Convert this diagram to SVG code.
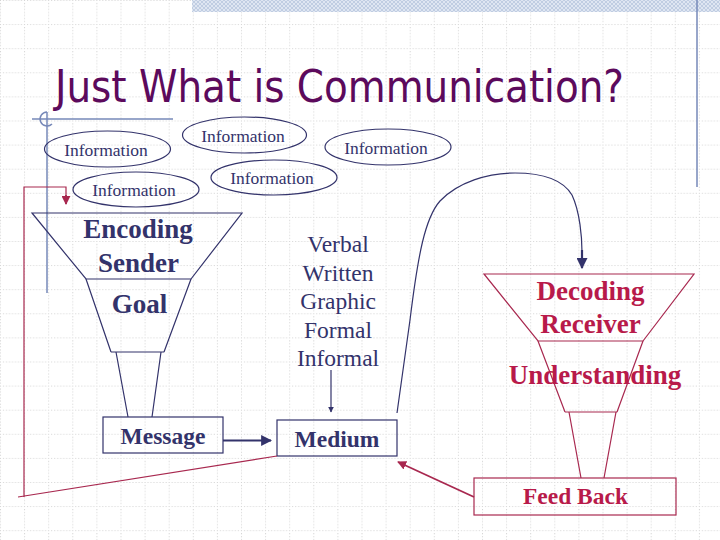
<svg xmlns="http://www.w3.org/2000/svg" width="720" height="540" viewBox="0 0 720 540">
<defs>
<pattern id="grid" width="24.1" height="24.1" patternUnits="userSpaceOnUse">
<path d="M0 0.5 H24.1 M0.5 0 V24.1" fill="none" stroke="#d2d2d2" stroke-width="1" stroke-dasharray="1 2"/>
</pattern>
<pattern id="hatch" width="4" height="4" patternUnits="userSpaceOnUse">
<rect width="4" height="4" fill="#dfe6f2"/>
<path d="M0 0 L4 4 M4 0 L0 4" stroke="#b9c6de" stroke-width="0.8"/>
</pattern>
<marker id="arrN" viewBox="0 0 10 10" refX="9" refY="5" markerWidth="5" markerHeight="5" orient="auto"><path d="M0 0 L10 5 L0 10 Z" fill="#33336b"/></marker>
<marker id="arrR" viewBox="0 0 10 10" refX="9" refY="5" markerWidth="5" markerHeight="5" orient="auto"><path d="M0 0 L10 5 L0 10 Z" fill="#a8284f"/></marker>
<style>
.ell{fill:none;stroke:#33336b;stroke-width:1.2}
.info{font-family:"Liberation Serif","Times New Roman",serif;font-size:17.5px;fill:#33336b;text-anchor:middle}
.navy{fill:none;stroke:#33336b;stroke-width:1.2}
.red{fill:none;stroke:#a8284f;stroke-width:1.2}
.bn{font-family:"Liberation Serif","Times New Roman",serif;font-weight:bold;fill:#33336b;text-anchor:middle}
.br{font-family:"Liberation Serif","Times New Roman",serif;font-weight:bold;fill:#b81a4a;text-anchor:middle}
.list{font-family:"Liberation Serif","Times New Roman",serif;font-size:23.5px;fill:#33336b;text-anchor:middle}
.deco{fill:none;stroke:#7688b8;stroke-width:1.5}
</style>
</defs>
<rect width="720" height="540" fill="#ffffff"/>
<rect width="720" height="540" fill="url(#grid)"/>
<rect x="192" y="0" width="528" height="12" fill="url(#hatch)"/>
<g id="decor">
<line class="deco" x1="697" y1="0" x2="697" y2="187"/>
<line class="deco" x1="32" y1="119" x2="173" y2="119"/>
<line class="deco" x1="47" y1="112" x2="47" y2="293"/>
<path class="deco" d="M47 112 A7 7 0 1 0 52 124"/>
</g>
<g id="title">
<text x="55" y="102" font-family="'DejaVu Sans Condensed','DejaVu Sans',sans-serif" font-size="44" fill="#5c0a5c" textLength="569" lengthAdjust="spacingAndGlyphs">Just What is Communication?</text>
</g>
<g id="info1"><ellipse class="ell" cx="107.5" cy="149" rx="63" ry="18"/><text class="info" x="106" y="156">Information</text></g>
<g id="info2"><ellipse class="ell" cx="244.5" cy="135" rx="62" ry="18"/><text class="info" x="243" y="142">Information</text></g>
<g id="info3"><ellipse class="ell" cx="388" cy="147" rx="63" ry="18"/><text class="info" x="386" y="154">Information</text></g>
<g id="info4"><ellipse class="ell" cx="274" cy="177.5" rx="63" ry="17.5"/><text class="info" x="272" y="184">Information</text></g>
<g id="info5"><ellipse class="ell" cx="136" cy="189.5" rx="63" ry="17.5"/><text class="info" x="134" y="196">Information</text></g>
<g id="encoder">
<path class="navy" d="M32 213 H242 L191 279 H86 Z"/>
<path class="navy" d="M86 279 L111 352 M191 279 L164 352 M111 352 H164"/>
<path class="navy" d="M116 352 L128 417 M161 352 L152 417"/>
<text class="bn" x="138" y="238" font-size="27">Encoding</text>
<text class="bn" x="138.5" y="272" font-size="27">Sender</text>
<text class="bn" x="139.5" y="313" font-size="27">Goal</text>
</g>
<g id="message"><rect class="navy" x="103" y="417" width="120" height="36"/><text class="bn" x="163" y="444" font-size="23.5">Message</text></g>
<g id="channels">
<text class="list" x="338" y="252">Verbal</text>
<text class="list" x="338" y="281">Written</text>
<text class="list" x="338" y="309">Graphic</text>
<text class="list" x="338" y="338">Formal</text>
<text class="list" x="338" y="366">Informal</text>
</g>
<g id="medium"><rect class="navy" x="277" y="420" width="120" height="36"/><text class="bn" x="337" y="447" font-size="23.5">Medium</text></g>
<g id="decoder">
<path class="red" d="M484 274 H694 L643 341 H538 Z"/>
<path class="red" d="M538 341 L565 412 M643 341 L617 412 M565 412 H617"/>
<path class="red" d="M569 412 L581 478 M616 412 L604 478"/>
<text class="br" x="590.5" y="300" font-size="27">Decoding</text>
<text class="br" x="590.5" y="333" font-size="27">Receiver</text>
<text class="br" x="595" y="384" font-size="27">Understanding</text>
</g>
<g id="feedback"><rect class="red" x="474" y="478" width="202" height="37"/><text class="br" x="575.5" y="504" font-size="23.5">Feed Back</text></g>
<g id="connectors">
<line x1="223" y1="440.5" x2="271" y2="440.5" stroke="#33336b" stroke-width="2.2" marker-end="url(#arrN)"/>
<line x1="331" y1="370" x2="331" y2="412" stroke="#33336b" stroke-width="1.2" marker-end="url(#arrN)"/>
<path d="M397 413 L410 320 C418 255 425 218 440 201 C458 182 488 173 515 173 C545 173 563 180 572 195 C580 212 582 238 582 252" fill="none" stroke="#33336b" stroke-width="1.2"/>
<line x1="582" y1="250" x2="582" y2="268" stroke="#33336b" stroke-width="2.2" marker-end="url(#arrN)"/>
<line x1="474" y1="497" x2="398" y2="462" stroke="#a8284f" stroke-width="1.8" marker-end="url(#arrR)"/>
<path class="red" d="M277 456 L18 497 M24 497 V187 H66 V200"/>
<line x1="66" y1="195" x2="66" y2="204" stroke="#a8284f" stroke-width="1.8" marker-end="url(#arrR)"/>
</g>
</svg>
